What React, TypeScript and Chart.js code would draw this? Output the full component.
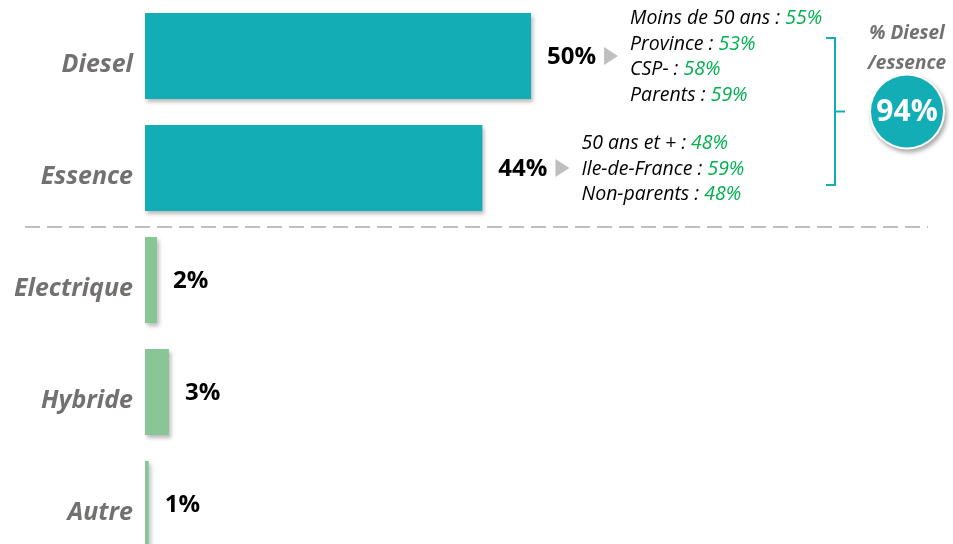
import React, { useEffect, useRef } from "react";
import { Chart, registerables } from "chart.js";

Chart.register(...registerables);

const categories = ["Diesel", "Essence", "Electrique", "Hybride", "Autre"];
const shares = [50, 43.7, 1.55, 3.1, 0.5];
const valueLabels = ["50%", "44%", "2%", "3%", "1%"];
const barColors = ["#13AEB5", "#13AEB5", "#88C795", "#88C795", "#88C795"];
const dieselBreakdown: [string, string][] = [
  ["Moins de 50 ans", "55%"],
  ["Province", "53%"],
  ["CSP-", "58%"],
  ["Parents", "59%"],
];
const essenceBreakdown: [string, string][] = [
  ["50 ans et +", "48%"],
  ["Ile-de-France", "59%"],
  ["Non-parents", "48%"],
];
const totalTitle = ["% Diesel", "/essence"];
const totalValue = "94%";

const TEAL = "#13AEB5";
const GRAY_TEXT = "#737070";
const GREEN_TEXT = "#00B050";
const FONT_I = "'Open Sans', Lato, sans-serif";

const decorPlugin = {
  id: "decor",
  beforeDatasetsDraw(chart: any) {
    const ctx = chart.ctx;
    ctx.save();
    ctx.shadowColor = "rgba(0,0,0,0.28)";
    ctx.shadowBlur = 4;
    ctx.shadowOffsetX = 2;
    ctx.shadowOffsetY = 3;
  },
  afterDatasetsDraw(chart: any) {
    chart.ctx.restore();
  },
  afterDraw(chart: any) {
    const ctx = chart.ctx;
    const meta = chart.getDatasetMeta(0);
    const yScale = chart.scales.y;

    // category labels
    ctx.save();
    ctx.font = `italic bold 25px ${FONT_I}`;
    ctx.fillStyle = GRAY_TEXT;
    ctx.textAlign = "right";
    ctx.textBaseline = "middle";
    categories.forEach((c, i) => {
      const y = yScale.getPixelForValue(i);
      ctx.fillText(c, 133, y + 9);
    });
    ctx.restore();

    // value labels + arrows + breakdowns
    meta.data.forEach((bar: any, i: number) => {
      const xEnd = bar.x;
      const y = bar.y;
      ctx.save();
      ctx.font = `bold 24px ${FONT_I}`;
      ctx.fillStyle = "#000";
      ctx.textAlign = "left";
      ctx.textBaseline = "middle";
      const lx = xEnd + 16;
      ctx.fillText(valueLabels[i], lx, y + 1);
      const w = ctx.measureText(valueLabels[i]).width;
      ctx.restore();

      const breakdown = i === 0 ? dieselBreakdown : i === 1 ? essenceBreakdown : null;
      if (!breakdown) return;
      const ax = lx + w + 8;
      ctx.save();
      ctx.fillStyle = "#BFBFBF";
      ctx.beginPath();
      ctx.moveTo(ax, y - 9);
      ctx.lineTo(ax + 14, y);
      ctx.lineTo(ax, y + 9);
      ctx.closePath();
      ctx.fill();
      ctx.restore();

      const tx = ax + 26;
      const spacing = 25.6;
      const n = breakdown.length;
      ctx.save();
      ctx.font = `italic 19.5px ${FONT_I}`;
      ctx.textAlign = "left";
      ctx.textBaseline = "middle";
      breakdown.forEach(([lab, val], k) => {
        const ly = y + (k - (n - 1) / 2) * spacing + 1;
        const prefix = `${lab} : `;
        ctx.fillStyle = "#000";
        ctx.fillText(prefix, tx, ly);
        const pw = ctx.measureText(prefix).width;
        ctx.fillStyle = GREEN_TEXT;
        ctx.fillText(val, tx + pw, ly);
      });
      ctx.restore();
    });

    // dashed separator
    const ySep = (yScale.getPixelForValue(1) + yScale.getPixelForValue(2)) / 2 + 3;
    ctx.save();
    ctx.strokeStyle = "#BFBFBF";
    ctx.lineWidth = 2;
    ctx.setLineDash([15, 7]);
    ctx.beginPath();
    ctx.moveTo(25, ySep);
    ctx.lineTo(928, ySep);
    ctx.stroke();
    ctx.restore();

    // bracket
    const yTop = yScale.getPixelForValue(0) - 18;
    const yBot = yScale.getPixelForValue(1) + 17;
    const bx = 835;
    ctx.save();
    ctx.strokeStyle = TEAL;
    ctx.lineWidth = 2;
    ctx.beginPath();
    ctx.moveTo(bx - 9, yTop);
    ctx.lineTo(bx, yTop);
    ctx.lineTo(bx, yBot);
    ctx.lineTo(bx - 9, yBot);
    ctx.moveTo(bx, (yTop + yBot) / 2);
    ctx.lineTo(bx + 10, (yTop + yBot) / 2);
    ctx.stroke();
    ctx.restore();

    // title
    ctx.save();
    ctx.font = `italic bold 19px ${FONT_I}`;
    ctx.fillStyle = GRAY_TEXT;
    ctx.textAlign = "center";
    ctx.textBaseline = "middle";
    ctx.fillText(totalTitle[0], 907, 34);
    ctx.fillText(totalTitle[1], 907, 64);
    ctx.restore();

    // circle
    const cy = (yTop + yBot) / 2;
    ctx.save();
    ctx.shadowColor = "rgba(0,0,0,0.35)";
    ctx.shadowBlur = 4;
    ctx.shadowOffsetX = 2;
    ctx.shadowOffsetY = 3;
    ctx.beginPath();
    ctx.arc(907, cy, 38, 0, Math.PI * 2);
    ctx.fillStyle = "#fff";
    ctx.fill();
    ctx.restore();
    ctx.save();
    ctx.beginPath();
    ctx.arc(907, cy, 36, 0, Math.PI * 2);
    ctx.fillStyle = TEAL;
    ctx.fill();
    ctx.font = `bold 30px ${FONT_I}`;
    ctx.fillStyle = "#fff";
    ctx.textAlign = "center";
    ctx.textBaseline = "middle";
    ctx.fillText(totalValue, 907, cy + 1);
    ctx.restore();
  },
};

export default function App() {
  const canvasRef = useRef<HTMLCanvasElement | null>(null);

  useEffect(() => {
    if (!canvasRef.current) return;
    const chart = new Chart(canvasRef.current, {
      type: "bar",
      data: {
        labels: categories,
        datasets: [
          {
            data: shares,
            backgroundColor: barColors,
            borderWidth: 0,
            barPercentage: 0.77,
            categoryPercentage: 1,
          },
        ],
      },
      options: {
        indexAxis: "y",
        animation: false,
        responsive: true,
        maintainAspectRatio: false,
        layout: { padding: { left: 145, right: 36, top: 0, bottom: 0 } },
        plugins: { legend: { display: false }, tooltip: { enabled: false } },
        scales: {
          x: { display: false, min: 0, max: 100 },
          y: { display: false },
        },
      },
      plugins: [decorPlugin],
    });
    return () => chart.destroy();
  }, []);

  return (
    <div style={{ position: "fixed", left: 0, top: 0, width: 953, height: 544, overflow: "hidden", background: "#fff" }}>
      <div style={{ position: "relative", width: 953, height: 560 }}>
        <canvas ref={canvasRef} />
      </div>
    </div>
  );
}
